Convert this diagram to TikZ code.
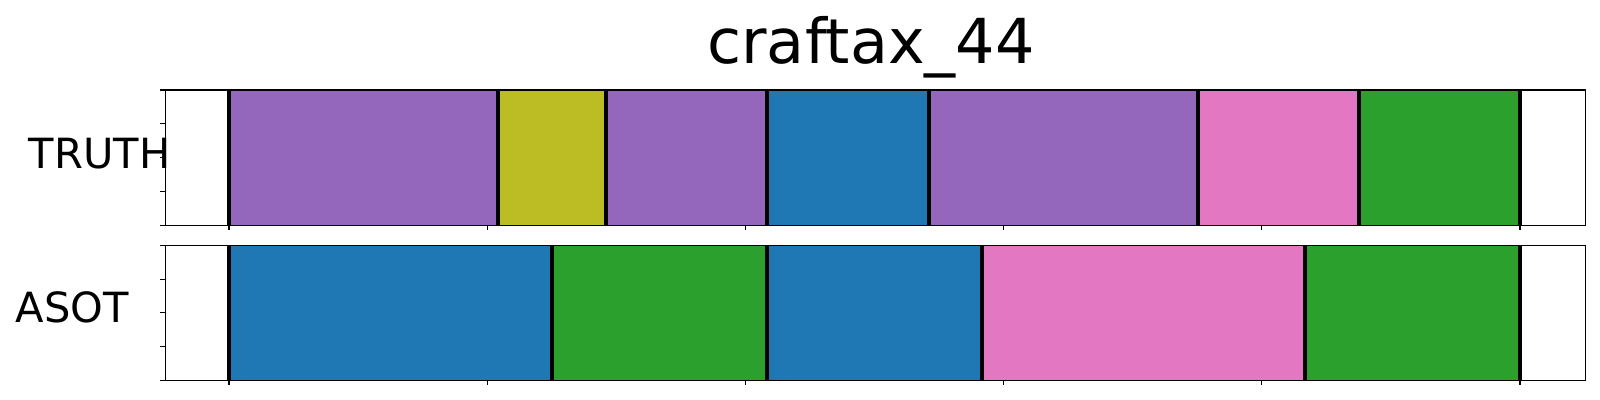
\documentclass[tikz,border=0pt]{standalone}
\usepackage{fontspec}
\setmainfont{DejaVu Sans}
\definecolor{tpurple}{HTML}{9467BD}
\definecolor{tolive}{HTML}{BCBD22}
\definecolor{tblue}{HTML}{1F77B4}
\definecolor{tpink}{HTML}{E377C2}
\definecolor{tgreen}{HTML}{2CA02C}
\tikzset{
  seg/.style={fill=#1, draw=none},
  sep/.style={line width=2pt, draw=black},
  spine/.style={line width=0.55pt, draw=black},
  tick/.style={line width=0.55pt, draw=black},
  lbl/.style={inner sep=0pt, font=\fontsize{20.8pt}{24pt}\selectfont},
  ttl/.style={inner sep=0pt, font=\fontsize{31pt}{36pt}\selectfont}
}
\begin{document}
\begin{tikzpicture}[x=0.5pt, y=-0.5pt]
\useasboundingbox (0,0) rectangle (1600,400);
\fill[white] (0,0) rectangle (1600,400);
% top axes (TRUTH)
\coordinate (t0) at (165.3,90);
\coordinate (t1) at (1585.7,225.3);
\fill[seg=tpurple] (229,90) rectangle (498,225.3);
\fill[seg=tolive]  (498,90) rectangle (606,225.3);
\fill[seg=tpurple] (606,90) rectangle (767,225.3);
\fill[seg=tblue]   (767,90) rectangle (929,225.3);
\fill[seg=tpurple] (929,90) rectangle (1198,225.3);
\fill[seg=tpink]   (1198,90) rectangle (1359,225.3);
\fill[seg=tgreen]  (1359,90) rectangle (1520,225.3);
\foreach \x in {229,498,606,767,929,1198,1359,1520}
  \draw[sep] (\x,90) -- (\x,225.3);
\draw[spine] (t0) rectangle (t1);
% bottom axes (ASOT)
\coordinate (b0) at (165.3,245.5);
\coordinate (b1) at (1585.7,380.3);
\fill[seg=tblue]  (229,245.5) rectangle (552,380.3);
\fill[seg=tgreen] (552,245.5) rectangle (767,380.3);
\fill[seg=tblue]  (767,245.5) rectangle (982,380.3);
\fill[seg=tpink]  (982,245.5) rectangle (1305,380.3);
\fill[seg=tgreen] (1305,245.5) rectangle (1520,380.3);
\foreach \x in {229,552,767,982,1305,1520}
  \draw[sep] (\x,245.5) -- (\x,380.3);
\draw[spine] (b0) rectangle (b1);
% x ticks
\foreach \x in {229,487.2,745.4,1003.6,1261.8,1520} {
  \draw[tick] (\x,225.3) -- (\x,230.2);
  \draw[tick] (\x,380.3) -- (\x,385.2);
}
% y ticks
\foreach \i in {0,1,2,3,4} {
  \draw[tick] (165.3,{90+\i*33.825}) -- (160.4,{90+\i*33.825});
  \draw[tick] (165.3,{245.5+\i*33.7}) -- (160.4,{245.5+\i*33.7});
}
% labels
\node[lbl, anchor=base west] (truth) at (28.5,169) {TRUTH};
\node[lbl, anchor=base west] (asot) at (15.5,323) {ASOT};
\node[ttl, anchor=base] (title) at (871,63.3) {craftax\_44};
\end{tikzpicture}
\end{document}
